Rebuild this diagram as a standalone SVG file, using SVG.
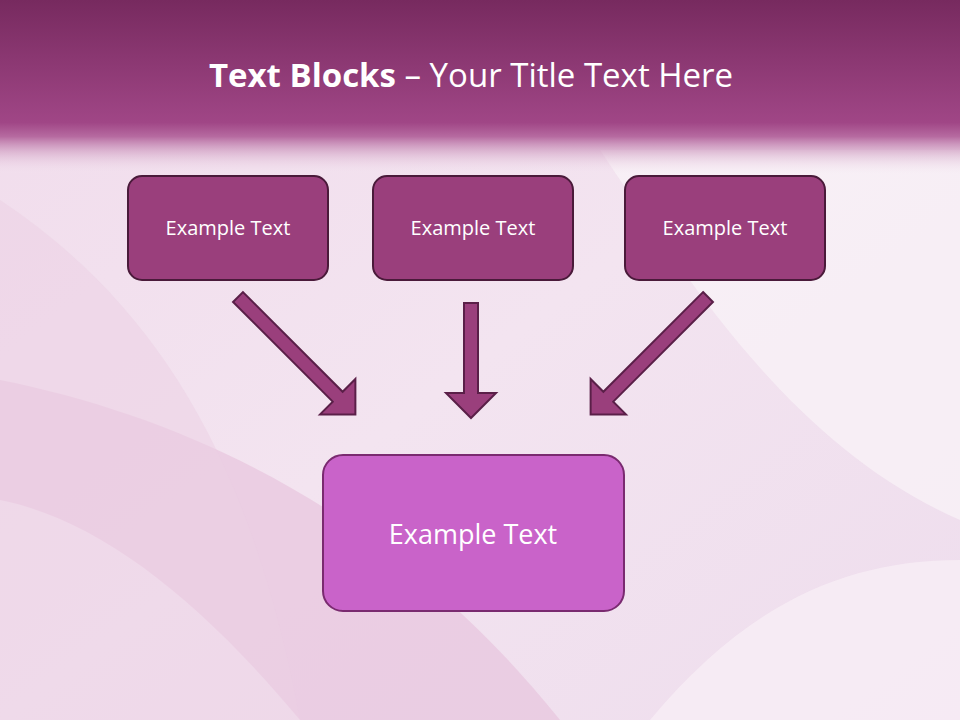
<svg xmlns="http://www.w3.org/2000/svg" width="960" height="720" viewBox="0 0 960 720">
<defs>
<linearGradient id="top" x1="0" y1="0" x2="0" y2="1">
<stop offset="0" stop-color="#772a5f"/><stop offset="0.7" stop-color="#a04686"/><stop offset="0.78" stop-color="#b66aa0"/><stop offset="1" stop-color="#f6eaf3" stop-opacity="0"/>
</linearGradient>
<linearGradient id="bg" x1="0" y1="0" x2="1" y2="1">
<stop offset="0" stop-color="#f1dcec"/><stop offset="0.5" stop-color="#f3e4f0"/><stop offset="1" stop-color="#eedded"/>
</linearGradient>
<style>
.box{fill:#9a3f7c;stroke:#4a1a3a;stroke-width:2}
.arr{fill:#9a3f7c;stroke:#5a1f48;stroke-width:2}
.t{font-family:"Open Sans","Liberation Sans",sans-serif;fill:#fff;text-anchor:middle}
</style>
</defs>
<rect width="960" height="720" fill="url(#bg)"/>
<path d="M0 380 C200 420 400 520 560 720 L300 720 C200 600 100 520 0 500Z" fill="#e6bfdb" opacity="0.6"/>
<path d="M0 200 C150 300 250 450 300 720 L0 720Z" fill="#ecd0e4" opacity="0.5"/>
<path d="M600 150 C700 300 800 450 960 520 L960 150Z" fill="#faf3f8" opacity="0.7"/>
<path d="M650 720 C750 600 850 560 960 560 L960 720Z" fill="#f7eef5" opacity="0.8"/>
<rect width="960" height="175" fill="url(#top)"/>
<text class="t" x="471" y="87" font-size="33"><tspan font-weight="bold">Text Blocks</tspan> – Your Title Text Here</text>
<g id="connectors">
<polygon class="arr" transform="translate(238,297) rotate(-45)" points="-7,0 7,0 7,141 25,141 0,166 -25,141 -7,141"/>
<polygon class="arr" transform="translate(471,303)" points="-7,0 7,0 7,90 25,90 0,115 -25,90 -7,90"/>
<polygon class="arr" transform="translate(708,297) rotate(45)" points="-7,0 7,0 7,141 25,141 0,166 -25,141 -7,141"/>
</g>
<g id="n1"><rect class="box" x="128" y="176" width="200" height="104" rx="14"/><text class="t" x="228" y="235" font-size="20">Example Text</text></g>
<g id="n2"><rect class="box" x="373" y="176" width="200" height="104" rx="14"/><text class="t" x="473" y="235" font-size="20">Example Text</text></g>
<g id="n3"><rect class="box" x="625" y="176" width="200" height="104" rx="14"/><text class="t" x="725" y="235" font-size="20">Example Text</text></g>
<g id="n4"><rect x="323" y="455" width="301" height="156" rx="20" fill="#c963c9" stroke="#7a2a70" stroke-width="2"/><text class="t" x="473" y="544" font-size="27">Example Text</text></g>
</svg>
